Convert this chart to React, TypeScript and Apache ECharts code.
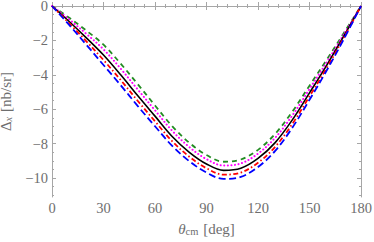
import React, { useEffect, useRef } from "react";
import * as echarts from "echarts";

const theta = [0, 10, 20, 30, 40, 50, 60, 70, 80, 90, 100, 110, 120, 130, 140, 150, 160, 170, 180];
const greenVals = [0, -0.68, -1.43, -2.25, -3.35, -4.55, -5.78, -6.98, -7.95, -8.66, -9.05, -8.92, -8.36, -7.43, -6.14, -4.63, -3.13, -1.57, 0];
const magentaVals = [0, -0.78, -1.62, -2.52, -3.64, -4.86, -6.06, -7.25, -8.2, -8.9, -9.27, -9.15, -8.58, -7.66, -6.36, -4.82, -3.27, -1.65, 0];
const blackVals = [0, -0.9, -1.85, -2.85, -4.0, -5.22, -6.4, -7.58, -8.5, -9.18, -9.55, -9.43, -8.86, -7.94, -6.62, -5.05, -3.45, -1.75, 0];
const redVals = [0, -1.0, -2.05, -3.14, -4.3, -5.52, -6.7, -7.86, -8.76, -9.43, -9.8, -9.68, -9.11, -8.18, -6.85, -5.25, -3.6, -1.84, 0];
const blueVals = [0, -1.1, -2.25, -3.43, -4.6, -5.82, -6.99, -8.13, -9.02, -9.68, -10.05, -9.93, -9.36, -8.42, -7.07, -5.45, -3.75, -1.92, 0];

const yMajor = [0, -2, -4, -6, -8, -10];
const yMinor = [-0.5, -1, -1.5, -2.5, -3, -3.5, -4.5, -5, -5.5, -6.5, -7, -7.5, -8.5, -9, -9.5, -10.5, -11];

const FRAME = "#a6a6a6";
const LABEL = "#6e6e6e";
const FONT = "Liberation Serif";

export default function App() {
  const ref = useRef<HTMLDivElement>(null);
  useEffect(() => {
    const chart = echarts.init(ref.current!, null, { renderer: "svg" });
    const pair = (vals: number[]) => theta.map((t, i) => [t, vals[i]]);
    const yBase = {
      type: "value" as const,
      min: -11.1,
      max: 0,
      splitLine: { show: false },
    };
    const fmt = (v: number) => (v < 0 ? "\u2212" + Math.abs(v) : String(v));
    chart.setOption({
      animation: false,
      grid: { left: 52, top: 6, right: 13, bottom: 45, containLabel: false, outerBoundsMode: "none" },
      xAxis: [
        {
          type: "value",
          min: 0,
          max: 180,
          interval: 30,
          position: "bottom",
          axisLine: { show: true, lineStyle: { color: FRAME, width: 1 } },
          axisTick: { show: true, inside: true, length: 4, lineStyle: { color: FRAME } },
          minorTick: { show: true, splitNumber: 5, length: 2, lineStyle: { color: FRAME } },
          axisLabel: { color: LABEL, fontFamily: FONT, fontSize: 14.5, lineHeight: 12, margin: 5 },
          splitLine: { show: false },
          name: "{t|\u03b8}{s|cm} [deg]",
          nameLocation: "middle",
          nameGap: 23,
          nameTextStyle: {
            color: LABEL,
            fontFamily: FONT,
            fontSize: 15,
            lineHeight: 13,
            rich: {
              t: { fontFamily: FONT, fontSize: 15, lineHeight: 13, fontStyle: "italic", color: LABEL },
              s: { fontFamily: FONT, fontSize: 10.5, lineHeight: 10, color: LABEL, padding: [6, 1, 0, 0] },
            },
          },
        },
        {
          type: "value",
          min: 0,
          max: 180,
          interval: 30,
          position: "top",
          axisLine: { show: true, lineStyle: { color: FRAME, width: 1 } },
          axisTick: { show: true, inside: true, length: 4, lineStyle: { color: FRAME } },
          minorTick: { show: true, splitNumber: 5, length: 2, lineStyle: { color: FRAME } },
          axisLabel: { show: false },
          splitLine: { show: false },
        },
      ],
      yAxis: [
        {
          ...yBase,
          position: "left",
          axisLine: { show: true, lineStyle: { color: FRAME, width: 1 } },
          axisTick: { show: true, inside: true, length: 4, customValues: yMajor, lineStyle: { color: FRAME } },
          axisLabel: { customValues: yMajor, formatter: fmt, color: LABEL, fontFamily: FONT, fontSize: 14.5, lineHeight: 12, margin: 4 },
          name: "{d|\u0394}{s|x} [nb/sr]",
          nameLocation: "middle",
          nameGap: 30,
          nameRotate: 90,
          nameTextStyle: {
            color: LABEL,
            fontFamily: FONT,
            fontSize: 15,
            lineHeight: 13,
            rich: {
              d: { fontFamily: FONT, fontSize: 15, lineHeight: 13, color: LABEL },
              s: { fontFamily: FONT, fontSize: 10.5, lineHeight: 10, fontStyle: "italic", color: LABEL, padding: [6, 1, 0, 0] },
            },
          },
        },
        {
          ...yBase,
          position: "left",
          axisLine: { show: false },
          axisTick: { show: true, inside: true, length: 2, customValues: yMinor, lineStyle: { color: FRAME } },
          axisLabel: { show: false },
        },
        {
          ...yBase,
          position: "right",
          axisLine: { show: true, lineStyle: { color: FRAME, width: 1 } },
          axisTick: { show: true, inside: true, length: 4, customValues: yMajor, lineStyle: { color: FRAME } },
          axisLabel: { show: false },
        },
        {
          ...yBase,
          position: "right",
          axisLine: { show: false },
          axisTick: { show: true, inside: true, length: 2, customValues: yMinor, lineStyle: { color: FRAME } },
          axisLabel: { show: false },
        },
      ],
      series: [
        {
          type: "line",
          data: pair(greenVals),
          smooth: 0.35,
          showSymbol: false,
          lineStyle: { color: "#228b22", width: 1.8, type: [5, 4] },
        },
        {
          type: "line",
          data: pair(magentaVals),
          smooth: 0.35,
          showSymbol: false,
          lineStyle: { color: "#ff00ff", width: 2, type: [0.1, 3.5], cap: "round" },
        },
        {
          type: "line",
          data: pair(blackVals),
          smooth: 0.35,
          showSymbol: false,
          lineStyle: { color: "#000000", width: 1.6, type: "solid" },
        },
        {
          type: "line",
          data: pair(redVals),
          smooth: 0.35,
          showSymbol: false,
          lineStyle: { color: "#ff0000", width: 1.8, type: [5, 2.5, 1.5, 2.5] },
        },
        {
          type: "line",
          data: pair(blueVals),
          smooth: 0.35,
          showSymbol: false,
          lineStyle: { color: "#0000ff", width: 1.8, type: [7, 3.5] },
        },
      ],
    });
    return () => chart.dispose();
  }, []);
  return <div ref={ref} style={{ position: "absolute", left: 0, top: 0, width: 374, height: 242 }} />;
}
